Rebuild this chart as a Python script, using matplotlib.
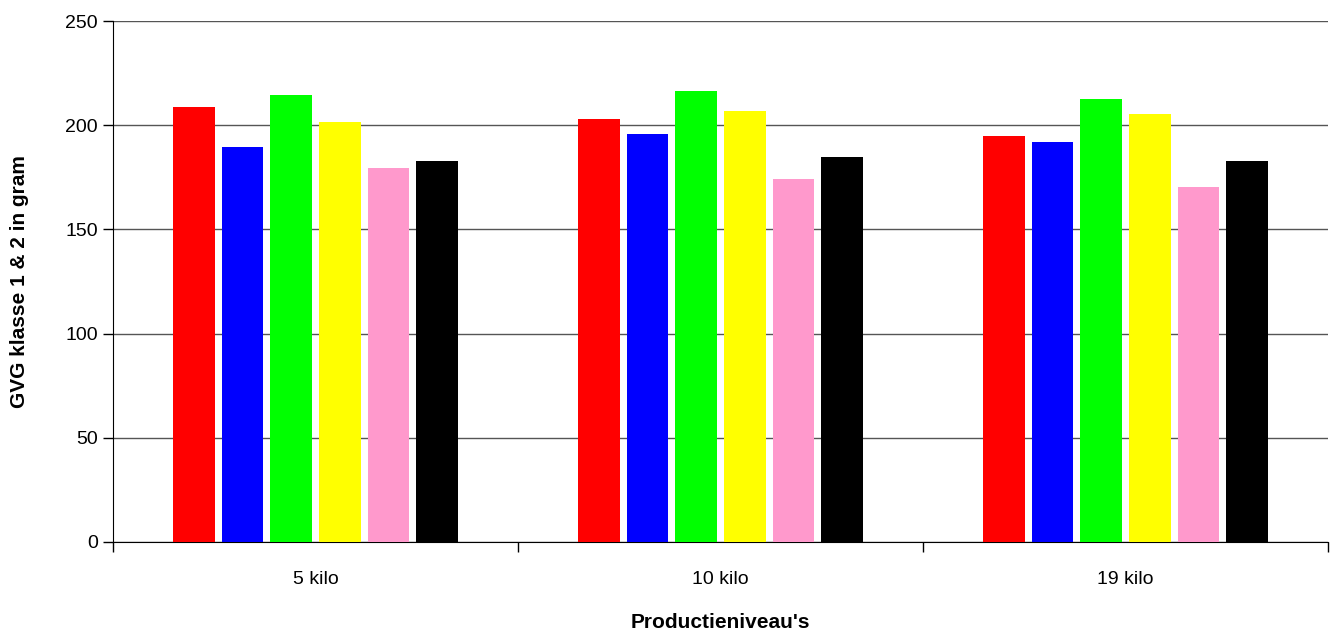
import matplotlib
matplotlib.use("Agg")
import matplotlib.pyplot as plt
import numpy as np

plt.rcParams['font.family'] = ['Liberation Sans', 'DejaVu Sans']

categories = ["5 kilo", "10 kilo", "19 kilo"]
series_colors = ["#ff0000", "#0000ff", "#00ff00", "#ffff00", "#ff99cc", "#000000"]
s1 = [208.8, 202.9, 194.7]
s2 = [189.6, 195.7, 191.7]
s3 = [214.4, 216.6, 212.5]
s4 = [201.6, 206.6, 205.6]
s5 = [179.5, 174.4, 170.4]
s6 = [182.7, 184.8, 182.7]
series = [s1, s2, s3, s4, s5, s6]
yticks = [0, 50, 100, 150, 200, 250]

fig = plt.figure(figsize=(13.3, 6.31), dpi=100)
ax = fig.add_axes([113/1330, 89/631, 1215/1330, 521/631])

x = np.arange(len(categories))
step = 0.12
width = 0.103
n = len(series)
for i, (vals, c) in enumerate(zip(series, series_colors)):
    ax.bar(x + (i - (n - 1) / 2) * step, vals, width, color=c, zorder=3)

ax.set_xlim(-0.5, len(categories) - 0.5)
ax.set_ylim(0, 250)
ax.set_yticks(yticks)
ax.yaxis.grid(True, color="#555555", linewidth=1.0, zorder=0)
ax.set_axisbelow(True)

ax.set_xticks(x)
ax.set_xticklabels(categories, fontsize=14)
ax.set_xticks(np.arange(-0.5, len(categories)), minor=True)
ax.tick_params(axis='x', which='major', length=0, pad=21)
ax.tick_params(axis='x', which='minor', length=7, width=1, color='black', direction='out')
ax.tick_params(axis='y', length=7, width=1, color='black', labelsize=14, pad=4)

for sp in ['top', 'right']:
    ax.spines[sp].set_visible(False)
ax.spines['left'].set_color('black')
ax.spines['bottom'].set_color('black')

ax.set_ylabel("GVG klasse 1 & 2 in gram", fontsize=15, fontweight='bold', labelpad=26)
ax.set_xlabel("Productieniveau's", fontsize=15, fontweight='bold', labelpad=18)

fig.savefig("out.png", dpi=100)
